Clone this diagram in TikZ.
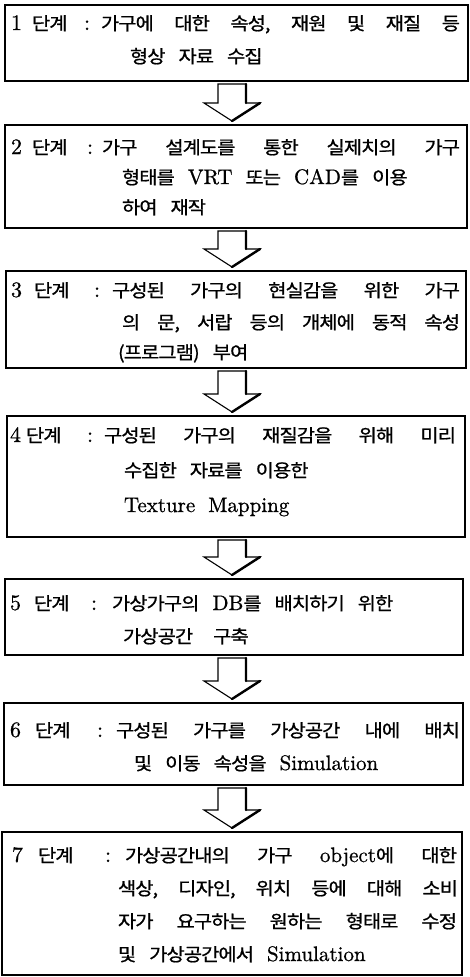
\documentclass[tikz,border=0pt]{standalone}
\usepackage{fontspec}
\newfontfamily\krfont{Noto Sans CJK KR}[FakeBold=0.9, FakeStretch=1.1, LetterSpace=-5]
\newfontfamily\latfont{lmroman10-regular}[Extension=.otf, FakeBold=0.8]
\usetikzlibrary{calc}
\newcommand\K{\krfont\fontsize{18}{33}\selectfont\frenchspacing\spaceskip=13pt plus 1fil\relax}
\newcommand\E[1]{{\latfont\fontsize{21}{25}\selectfont #1}}
\newcommand\D[1]{{\latfont\fontsize{22}{25}\selectfont #1}}
\newcommand\J[2]{\makebox[#1pt][s]{#2}}
\tikzset{
  box/.style={draw, line width=1.4pt, inner sep=0pt, outer sep=0pt, anchor=north west},
  txt/.style={anchor=base west, inner sep=0pt, outer sep=0pt, font=\K},
  barrow/.style={draw, line width=1.1pt, line join=miter, fill=white},
  bshadow/.style={draw, line width=2.4pt, line cap=round},
}
\newcommand\flowarrow[2]{%
  \draw[barrow] let \p1=(#1.south), \p2=(#2.north) in
    (218pt,{\y1-3pt}) -- (218pt,{\y2+22pt}) -- (204pt,{\y2+22pt}) -- (232pt,{\y2+4pt})
    -- (260pt,{\y2+22pt}) -- (246pt,{\y2+22pt}) -- (246pt,{\y1-3pt}) -- cycle;
  \draw[bshadow] let \p1=(#1.south), \p2=(#2.north) in
    (246pt,{\y1-3pt}) -- (246pt,{\y2+22pt}) (260pt,{\y2+22pt}) -- (232pt,{\y2+4pt});
}
\begin{document}
\begin{tikzpicture}[x=1pt,y=-1pt]
\fill[white] (0,0) rectangle (470,977);
\useasboundingbox (0,0) rectangle (470,977);

% boxes
\node[box, minimum width=463pt, minimum height=76pt]  (box1) at (5,5) {};
\node[box, minimum width=462pt, minimum height=103pt] (box2) at (5,125) {};
\node[box, minimum width=460pt, minimum height=97pt]  (box3) at (6,271) {};
\node[box, minimum width=458pt, minimum height=121pt] (box4) at (7,416) {};
\node[box, minimum width=458pt, minimum height=76pt]  (box5) at (5,579) {};
\node[box, minimum width=459pt, minimum height=82pt]  (box6) at (4,703) {};
\node[box, minimum width=460pt, minimum height=143pt] (box7) at (2,832) {};

% arrows
\flowarrow{box1}{box2}
\flowarrow{box2}{box3}
\flowarrow{box3}{box4}
\flowarrow{box4}{box5}
\flowarrow{box5}{box6}
\flowarrow{box6}{box7}

% box 1
\node[txt] (n1) at (11,30) {\D{1}};
\node[txt] (s1) at (32,30) {단계};
\node[txt] (c1) at (84,30) {\D{:}};
\node[txt] (t1a) at (101,30) {\J{359}{가구에 대한 속성, 재원 및 재질 등}};
\node[txt] (t1b) at (130,63) {형상 자료 수집};

% box 2
\node[txt] (n2) at (11,154) {\D{2}};
\node[txt] (s2) at (32,154) {단계};
\node[txt] (c2) at (87,154) {\D{:}};
\node[txt] (t2a) at (102,154) {\J{358}{가구 설계도를 통한 실제치의 가구}};
\node[txt] (t2b) at (122,184) {형태를 \E{VRT} 또는 \E{CAD}를 이용};
\node[txt] (t2c) at (122,214) {하여 재작};

% box 3
\node[txt] (n3) at (11,297) {\D{3}};
\node[txt] (s3) at (34,297) {단계};
\node[txt] (c3) at (94,297) {\D{:}};
\node[txt] (t3a) at (112,297) {\J{348}{구성된 가구의 현실감을 위한 가구}};
\node[txt] (t3b) at (122,329) {\J{338}{의 문, 서랍 등의 개체에 동적 속성}};
\node[txt] (t3c) at (118,359) {(프로그램) 부여};

% box 4
\node[txt] (n4) at (10,442) {\D{4}};
\node[txt] (s4) at (26,442) {단계};
\node[txt] (c4) at (87,442) {\D{:}};
\node[txt] (t4a) at (104,442) {\J{352}{구성된 가구의 재질감을 위해 미리}};
\node[txt] (t4b) at (124,477) {수집한 자료를 이용한};
\node[txt] (t4c) at (124,512) {\E{Texture Mapping}};

% box 5
\node[txt] (n5) at (10,610) {\D{5}};
\node[txt] (s5) at (34,610) {단계};
\node[txt] (c5) at (91,610) {\D{:}};
\node[txt] (t5a) at (112,610) {가상가구의 \E{DB}를 배치하기 위한};
\node[txt] (t5b) at (123,643) {가상공간\hspace{20pt}구축};

% box 6
\node[txt] (n6) at (10,737) {\D{6}};
\node[txt] (s6) at (35,737) {단계};
\node[txt] (c6) at (97,737) {\D{:}};
\node[txt] (t6a) at (116,737) {\J{344}{구성된 가구를 가상공간 내에 배치}};
\node[txt] (t6b) at (134,770) {및 이동 속성을 \E{Simulation}};

% box 7
\node[txt] (n7) at (12,862) {\D{7}};
\node[txt] (s7) at (38,862) {단계};
\node[txt] (c7) at (105,862) {\D{:}};
\node[txt] (t7a) at (125,862) {\J{332}{가상공간내의 가구 \E{object}에 대한}};
\node[txt] (t7b) at (118,895) {\J{340}{색상, 디자인, 위치 등에 대해 소비}};
\node[txt] (t7c) at (118,928) {\J{339}{자가 요구하는 원하는 형태로 수정}};
\node[txt] (t7d) at (118,961) {및 가상공간에서 \E{Simulation}};
\end{tikzpicture}
\end{document}
